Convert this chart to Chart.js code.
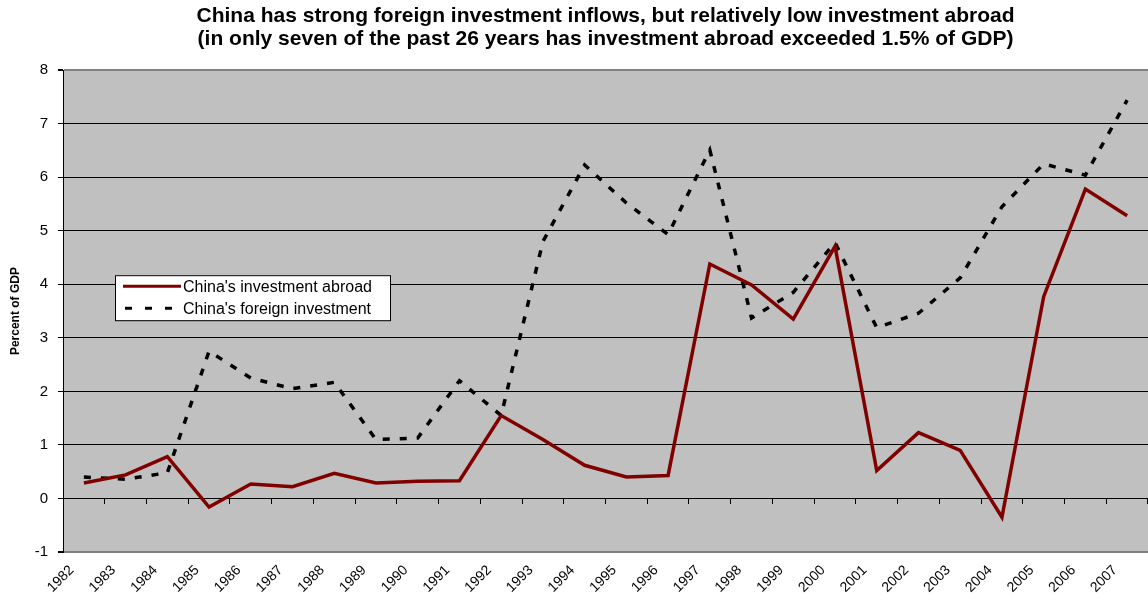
<!DOCTYPE html>
<html>
<head>
<meta charset="utf-8">
<script src="https://cdn.jsdelivr.net/npm/chart.js@4.4.1/dist/chart.umd.min.js"></script>
<style>
  html, body { margin: 0; padding: 0; background: #fff; }
  #wrap { width: 1148px; height: 596px; }
</style>
</head>
<body>
<div id="wrap"><canvas id="chart"></canvas></div>
<script>
var years = ['1982', '1983', '1984', '1985', '1986', '1987', '1988', '1989', '1990',
  '1991', '1992', '1993', '1994', '1995', '1996', '1997', '1998', '1999', '2000',
  '2001', '2002', '2003', '2004', '2005', '2006', '2007'];

// China's investment abroad (% of GDP)
var investAbroad = [0.29, 0.44, 0.78, -0.16, 0.27, 0.22, 0.47, 0.29, 0.32,
  0.33, 1.55, 1.10, 0.62, 0.40, 0.43, 4.38, 3.99, 3.35, 4.71,
  0.52, 1.23, 0.90, -0.35, 3.77, 5.78, 5.28];

// China's foreign investment (% of GDP)
var foreignInvest = [0.40, 0.36, 0.48, 2.75, 2.25, 2.05, 2.17, 1.10, 1.13,
  2.20, 1.55, 4.80, 6.23, 5.52, 4.93, 6.51, 3.37, 3.85, 4.78,
  3.19, 3.46, 4.12, 5.45, 6.25, 6.04, 7.44];

var yTicks = [-1, 0, 1, 2, 3, 4, 5, 6, 7, 8];

var titleLines = [
  'China has strong foreign investment inflows, but relatively low investment abroad',
  '(in only seven of the past 26 years has investment abroad exceeded 1.5% of GDP)'
];

var seriesNames = ["China's investment abroad", "China's foreign investment"];

var FONT = "'Liberation Sans', Arial, sans-serif";

// gray plot background
var plotBg = {
  id: 'plotBg',
  beforeDraw: function(chart) {
    var a = chart.chartArea, ctx = chart.ctx;
    ctx.save();
    ctx.fillStyle = '#c0c0c0';
    ctx.fillRect(a.left, a.top, a.right - a.left, a.bottom - a.top);
    ctx.restore();
  }
};

// legend box sitting inside the plot
var boxLegend = {
  id: 'boxLegend',
  afterDraw: function(chart) {
    var a = chart.chartArea, ctx = chart.ctx;
    var x = a.left + 52, y = a.top + 205, w = 275, h = 45;
    ctx.save();
    ctx.fillStyle = '#fff';
    ctx.strokeStyle = '#000';
    ctx.lineWidth = 1;
    ctx.fillRect(x, y, w, h);
    ctx.strokeRect(x + 0.5, y + 0.5, w, h);

    ctx.lineWidth = 3;
    ctx.strokeStyle = '#800000';
    ctx.beginPath();
    ctx.moveTo(x + 8, y + 11);
    ctx.lineTo(x + 66, y + 11);
    ctx.stroke();

    ctx.strokeStyle = '#000';
    ctx.setLineDash([7, 13]);
    ctx.beginPath();
    ctx.moveTo(x + 10, y + 33);
    ctx.lineTo(x + 66, y + 33);
    ctx.stroke();
    ctx.setLineDash([]);

    ctx.fillStyle = '#000';
    ctx.font = '16px ' + FONT;
    ctx.textBaseline = 'middle';
    ctx.textAlign = 'left';
    ctx.fillText(seriesNames[0], x + 68, y + 12);
    ctx.fillText(seriesNames[1], x + 68, y + 34);
    ctx.restore();
  }
};

var ctx = document.getElementById('chart').getContext('2d');

var myChart = new Chart(ctx, {
  type: 'line',
  data: {
    labels: years,
    datasets: [
      {
        label: seriesNames[0],
        data: investAbroad,
        borderColor: '#800000',
        borderWidth: 3.5,
        pointRadius: 0,
        tension: 0,
        xAxisID: 'x'
      },
      {
        label: seriesNames[1],
        data: foreignInvest,
        borderColor: '#000',
        borderWidth: 3.5,
        borderDash: [7, 10],
        pointRadius: 0,
        tension: 0,
        xAxisID: 'x'
      }
    ]
  },
  options: {
    responsive: true,
    maintainAspectRatio: false,
    animation: false,
    layout: { padding: { left: 0, right: 0, top: 0, bottom: 0 } },
    plugins: {
      legend: { display: false },
      tooltip: { enabled: false },
      title: {
        display: true,
        text: titleLines,
        fullSize: false,
        color: '#000',
        font: { family: FONT, size: 21, weight: 'bold', lineHeight: 1.1 },
        padding: { top: 5, bottom: 19 }
      }
    },
    scales: {
      x: {
        type: 'category',
        offset: true,
        grid: { display: false },
        border: { display: false },
        ticks: {
          autoSkip: false,
          minRotation: 45,
          maxRotation: 45,
          labelOffset: -12,
          color: '#000',
          padding: 2,
          font: { family: FONT, size: 14 }
        },
        afterFit: function(scale) { scale.height = 44; }
      },
      x2: {
        type: 'category',
        labels: years,
        position: { y: 0 },
        offset: true,
        grid: {
          drawOnChartArea: false,
          offset: true,
          tickLength: 5,
          color: '#000'
        },
        border: { display: true, color: '#000', width: 1 },
        ticks: { display: false }
      },
      y: {
        min: -1,
        max: 8,
        afterBuildTicks: function(scale) {
          scale.ticks = yTicks.map(function(v) { return { value: v }; });
        },
        grid: {
          color: function(c) {
            var v = c.tick && c.tick.value;
            return (v === 8 || v === -1) ? '#808080' : '#000';
          },
          lineWidth: function(c) {
            var v = c.tick && c.tick.value;
            return (v === 8 || v === -1) ? 2 : 1;
          },
          tickLength: 5,
          tickColor: '#000'
        },
        border: { display: true, color: '#000', width: 1 },
        ticks: {
          color: '#000',
          padding: 10,
          font: { family: FONT, size: 15 }
        },
        title: {
          display: true,
          text: 'Percent of GDP',
          color: '#000',
          padding: { top: 8, bottom: 0 },
          font: { family: FONT, size: 12, weight: 'bold' }
        },
        afterFit: function(scale) { scale.width = 63; }
      }
    }
  },
  plugins: [plotBg, boxLegend]
});
</script>
</body>
</html>
